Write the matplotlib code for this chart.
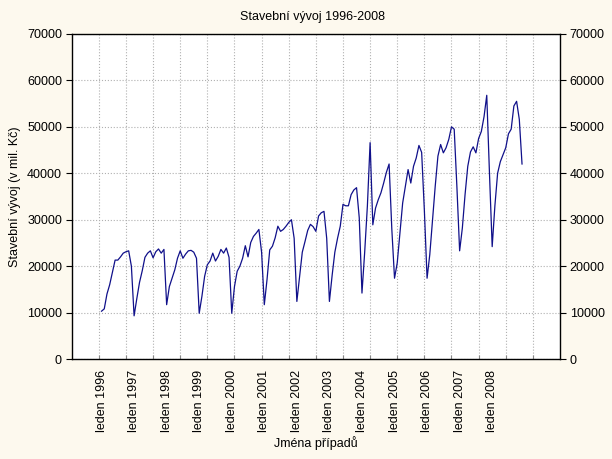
import numpy as np
import matplotlib
matplotlib.use("Agg")
import matplotlib.pyplot as plt

plt.rcParams['font.family'] = ['Liberation Sans', 'DejaVu Sans']

# mesicni hodnoty stavebni vyroby (mil. Kc), leden 1996 - prosinec 2008
v1996 = [10300, 10800, 14000, 16000, 18700, 21300, 21300, 22000, 22800, 23100, 23300, 20000]
v1997 = [9300, 13000, 16500, 19000, 21900, 22800, 23300, 21800, 23100, 23700, 22800, 23600]
v1998 = [11700, 15600, 17400, 19200, 21700, 23300, 21700, 22600, 23300, 23400, 23000, 21700]
v1999 = [9850, 13500, 17800, 20300, 21100, 22800, 21100, 22100, 23600, 22800, 23900, 21900]
v2000 = [9850, 15600, 18900, 20000, 21700, 24400, 22000, 25100, 26400, 27100, 27900, 23000]
v2001 = [11700, 17100, 23500, 24300, 26100, 28600, 27500, 27900, 28600, 29400, 30000, 26000]
v2002 = [12400, 17800, 23000, 25300, 27700, 29000, 28500, 27500, 30800, 31500, 31800, 26000]
v2003 = [12400, 18000, 23000, 26000, 28600, 33300, 33000, 33000, 35400, 36400, 36900, 30400]
v2004 = [14200, 23000, 33000, 46600, 28900, 32500, 34300, 35800, 37900, 40200, 42000, 28000]
v2005 = [17400, 20700, 27100, 33600, 37200, 40800, 37900, 41500, 43300, 46000, 44500, 32000]
v2006 = [17400, 22500, 30000, 37200, 43700, 46200, 44400, 45500, 47300, 50000, 49500, 37000]
v2007 = [23300, 28200, 35400, 41500, 44600, 45700, 44400, 47500, 49000, 52200, 56800, 40000]
v2008 = [24200, 33000, 40000, 42500, 44000, 45500, 48500, 49500, 54500, 55500, 51600, 42000]

values = (v1996 + v1997 + v1998 + v1999 + v2000 + v2001 + v2002 + v2003 +
          v2004 + v2005 + v2006 + v2007 + v2008)
cases = np.arange(1, len(values) + 1)

years = list(range(1996, 2009))
label_pos = [1 + 12 * i for i in range(len(years))]
label_txt = ["leden %d" % y for y in years]

fig = plt.figure(figsize=(6.12, 4.59), dpi=100)
fig.patch.set_facecolor('#fdf9ee')
ax = fig.add_axes([71.7 / 612, 1 - 359 / 459, (560 - 71.7) / 612, (359 - 34) / 459])
ax.set_facecolor('white')

ax.plot(cases, values, color='#10108a', linewidth=0.9)

ax.set_xlim(-10, 170)
ax.set_ylim(0, 70000)

# mrizka po 10 pripadech, popisky po 12 mesicich
ax.set_xticks(range(0, 161, 10))
ax.set_xticklabels([])
ax.set_xticks(label_pos, minor=True)
ax.set_xticklabels(label_txt, minor=True, rotation=90, fontsize=9, va='top')
ax.tick_params(axis='x', which='minor', length=0, pad=8)
ax.tick_params(axis='x', which='major', direction='in', length=3, color='#888888')

ax.set_yticks(range(0, 70001, 10000))
ax.tick_params(axis='y', which='major', direction='out', length=4, labelsize=9,
               right=True, labelright=True, pad=3)

ax.grid(True, which='major', linestyle=':', color='#b0b0b0', linewidth=0.8)
ax.set_axisbelow(True)
for s in ax.spines.values():
    s.set_linewidth(1.0)
    s.set_color('black')

fig.text(313 / 612, 1 - 17 / 459, "Stavební vývoj 1996-2008", ha='center', va='center', fontsize=9)
fig.text(15 / 612, 1 - 197 / 459, "Stavební vývoj (v mil. Kč)", ha='center', va='center',
         rotation=90, fontsize=9)
fig.text(316 / 612, 1 - 443 / 459, "Jména případů", ha='center', va='center', fontsize=9)

fig.savefig("out.png", dpi=100, facecolor=fig.get_facecolor())
